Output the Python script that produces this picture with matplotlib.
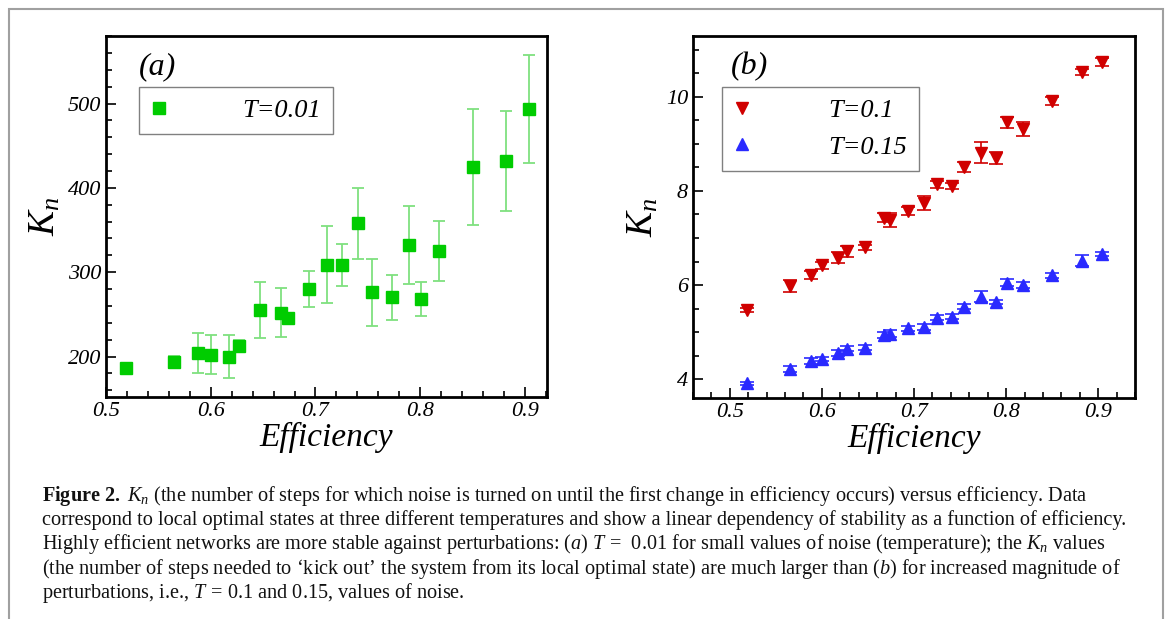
import numpy as np
import matplotlib
matplotlib.use("Agg")
import matplotlib.pyplot as plt
from matplotlib.ticker import MultipleLocator
from matplotlib.patches import Rectangle

plt.rcParams['font.family'] = ['Liberation Serif', 'DejaVu Serif']
plt.rcParams['mathtext.fontset'] = 'custom'
plt.rcParams['mathtext.rm'] = 'Liberation Serif'
plt.rcParams['mathtext.it'] = 'Liberation Serif:italic'
plt.rcParams['mathtext.bf'] = 'Liberation Serif:bold'

# eficiencia de los estados optimos locales (comun a los dos paneles)
eficiencia = [0.519, 0.565, 0.588, 0.600, 0.617, 0.627, 0.647, 0.667, 0.674, 0.694, 0.711,
              0.725, 0.741, 0.754, 0.773, 0.789, 0.801, 0.818, 0.850, 0.882, 0.904]

# panel (a): T=0.01
kn_001 = [186, 194, 204, 202, 200, 213, 255, 252, 246, 280, 309,
          309, 358, 276, 270, 332, 268, 325, 425, 432, 494]
err_001 = [3, 7, 24, 23, 26, 7, 33, 29, 3, 21, 46,
           25, 42, 40, 27, 46, 20, 36, 69, 59, 64]

# panel (b): T=0.1 y T=0.15
kn_01 = [5.47, 5.98, 6.21, 6.42, 6.58, 6.72, 6.80, 7.43, 7.38, 7.57, 7.75,
         8.14, 8.10, 8.51, 8.81, 8.70, 9.46, 9.31, 9.91, 10.52, 10.74]
err_01 = [0.05, 0.12, 0.08, 0.08, 0.12, 0.12, 0.06, 0.10, 0.15, 0.08, 0.15,
          0.08, 0.06, 0.10, 0.22, 0.12, 0.12, 0.15, 0.08, 0.06, 0.08]
kn_015 = [3.91, 4.21, 4.38, 4.43, 4.55, 4.65, 4.67, 4.94, 4.97, 5.08, 5.11,
          5.31, 5.33, 5.54, 5.75, 5.64, 6.05, 6.00, 6.21, 6.52, 6.66]
err_015 = [0.04, 0.06, 0.06, 0.05, 0.06, 0.06, 0.05, 0.07, 0.07, 0.06, 0.07,
           0.06, 0.06, 0.05, 0.12, 0.05, 0.08, 0.06, 0.05, 0.12, 0.05]

texto_fig = [
    r"$\mathbf{Figure\ 2.}$ $K_n$ (the number of steps for which noise is turned on until the first change in efficiency occurs) versus efficiency. Data",
    "correspond to local optimal states at three different temperatures and show a linear dependency of stability as a function of efficiency.",
    r"Highly efficient networks are more stable against perturbations: ($a$) $T\,=\,$ 0.01 for small values of noise (temperature); the $K_n$ values",
    r"(the number of steps needed to ‘kick out’ the system from its local optimal state) are much larger than ($b$) for increased magnitude of",
    r"perturbations, i.e., $T\,=\,$0.1 and 0.15, values of noise.",
]

fig = plt.figure(figsize=(11.7, 6.19), dpi=100)

# marco gris de la figura
fig.patches.append(Rectangle((9 / 1170, -0.05), 1154 / 1170, 1.05 - 9 / 619,
                             transform=fig.transFigure, fill=False,
                             edgecolor='#a0a0a0', linewidth=1.5))

ax1 = fig.add_axes([0.0906, 0.3586, 0.3769, 0.5832])
ax2 = fig.add_axes([0.5923, 0.3570, 0.3778, 0.5848])


def estilo(ax):
    for s in ax.spines.values():
        s.set_linewidth(2.0)
    ax.tick_params(which='both', direction='in', labelsize=16, width=1.2)
    ax.tick_params(which='major', length=7)
    ax.tick_params(which='minor', length=4)
    for lbl in ax.get_xticklabels() + ax.get_yticklabels():
        lbl.set_fontstyle('italic')
    ax.set_xlabel('Efficiency', fontsize=24, style='italic', labelpad=1)
    ax.set_ylabel('$K_n$', fontsize=27, labelpad=4)


# panel (a)
ax1.errorbar(eficiencia, kn_001, yerr=err_001, fmt='none', ecolor='#7fe07f',
             elinewidth=1.3, capsize=4.5, capthick=1.3)
ax1.plot(eficiencia, kn_001, 's', color='#00cc00', markersize=8.5, label='T=0.01')
ax1.set_xlim(0.5, 0.921)
ax1.set_ylim(152, 580)
ax1.xaxis.set_major_locator(MultipleLocator(0.1))
ax1.xaxis.set_minor_locator(MultipleLocator(0.02))
ax1.yaxis.set_major_locator(MultipleLocator(100))
ax1.yaxis.set_minor_locator(MultipleLocator(20))
estilo(ax1)
ax1.text(0.075, 0.955, '(a)', transform=ax1.transAxes, fontsize=23,
         style='italic', va='top')
leg1 = ax1.legend(loc='upper left', bbox_to_anchor=(0.075, 0.86),
                  prop={'style': 'italic', 'size': 19}, fancybox=False,
                  edgecolor='#808080', handlelength=0.6, handletextpad=2.85,
                  borderpad=0.45, borderaxespad=0, framealpha=1)
leg1.get_frame().set_linewidth(1.0)

# panel (b)
ax2.errorbar(eficiencia, kn_01, yerr=err_01, fmt='none', ecolor='#d00000',
             elinewidth=1.2, capsize=5, capthick=1.2)
ax2.errorbar(eficiencia, kn_015, yerr=err_015, fmt='none', ecolor='#2a2aff',
             elinewidth=1.2, capsize=5, capthick=1.2)
ax2.plot(eficiencia, kn_01, 'v', color='#d00000', markersize=9, label='T=0.1')
ax2.plot(eficiencia, kn_015, '^', color='#2a2aff', markersize=9, label='T=0.15')
ax2.set_xlim(0.46, 0.94)
ax2.set_ylim(3.6, 11.29)
ax2.xaxis.set_major_locator(MultipleLocator(0.1))
ax2.xaxis.set_minor_locator(MultipleLocator(0.02))
ax2.yaxis.set_major_locator(MultipleLocator(2))
ax2.yaxis.set_minor_locator(MultipleLocator(0.5))
estilo(ax2)
ax2.text(0.085, 0.955, '(b)', transform=ax2.transAxes, fontsize=23,
         style='italic', va='top')
leg2 = ax2.legend(loc='upper left', bbox_to_anchor=(0.065, 0.86),
                  prop={'style': 'italic', 'size': 19}, fancybox=False,
                  edgecolor='#808080', handlelength=0.6, handletextpad=3.0,
                  borderpad=0.45, labelspacing=0.5, borderaxespad=0, framealpha=1)
leg2.get_frame().set_linewidth(1.0)

# pie de figura
for i, linea in enumerate(texto_fig):
    fig.text(42 / 1170, 1 - (496 + 24.2 * i) / 619, linea, fontsize=14.6,
             va='center', ha='left', color='#111111')

fig.savefig('out.png', dpi=100)
